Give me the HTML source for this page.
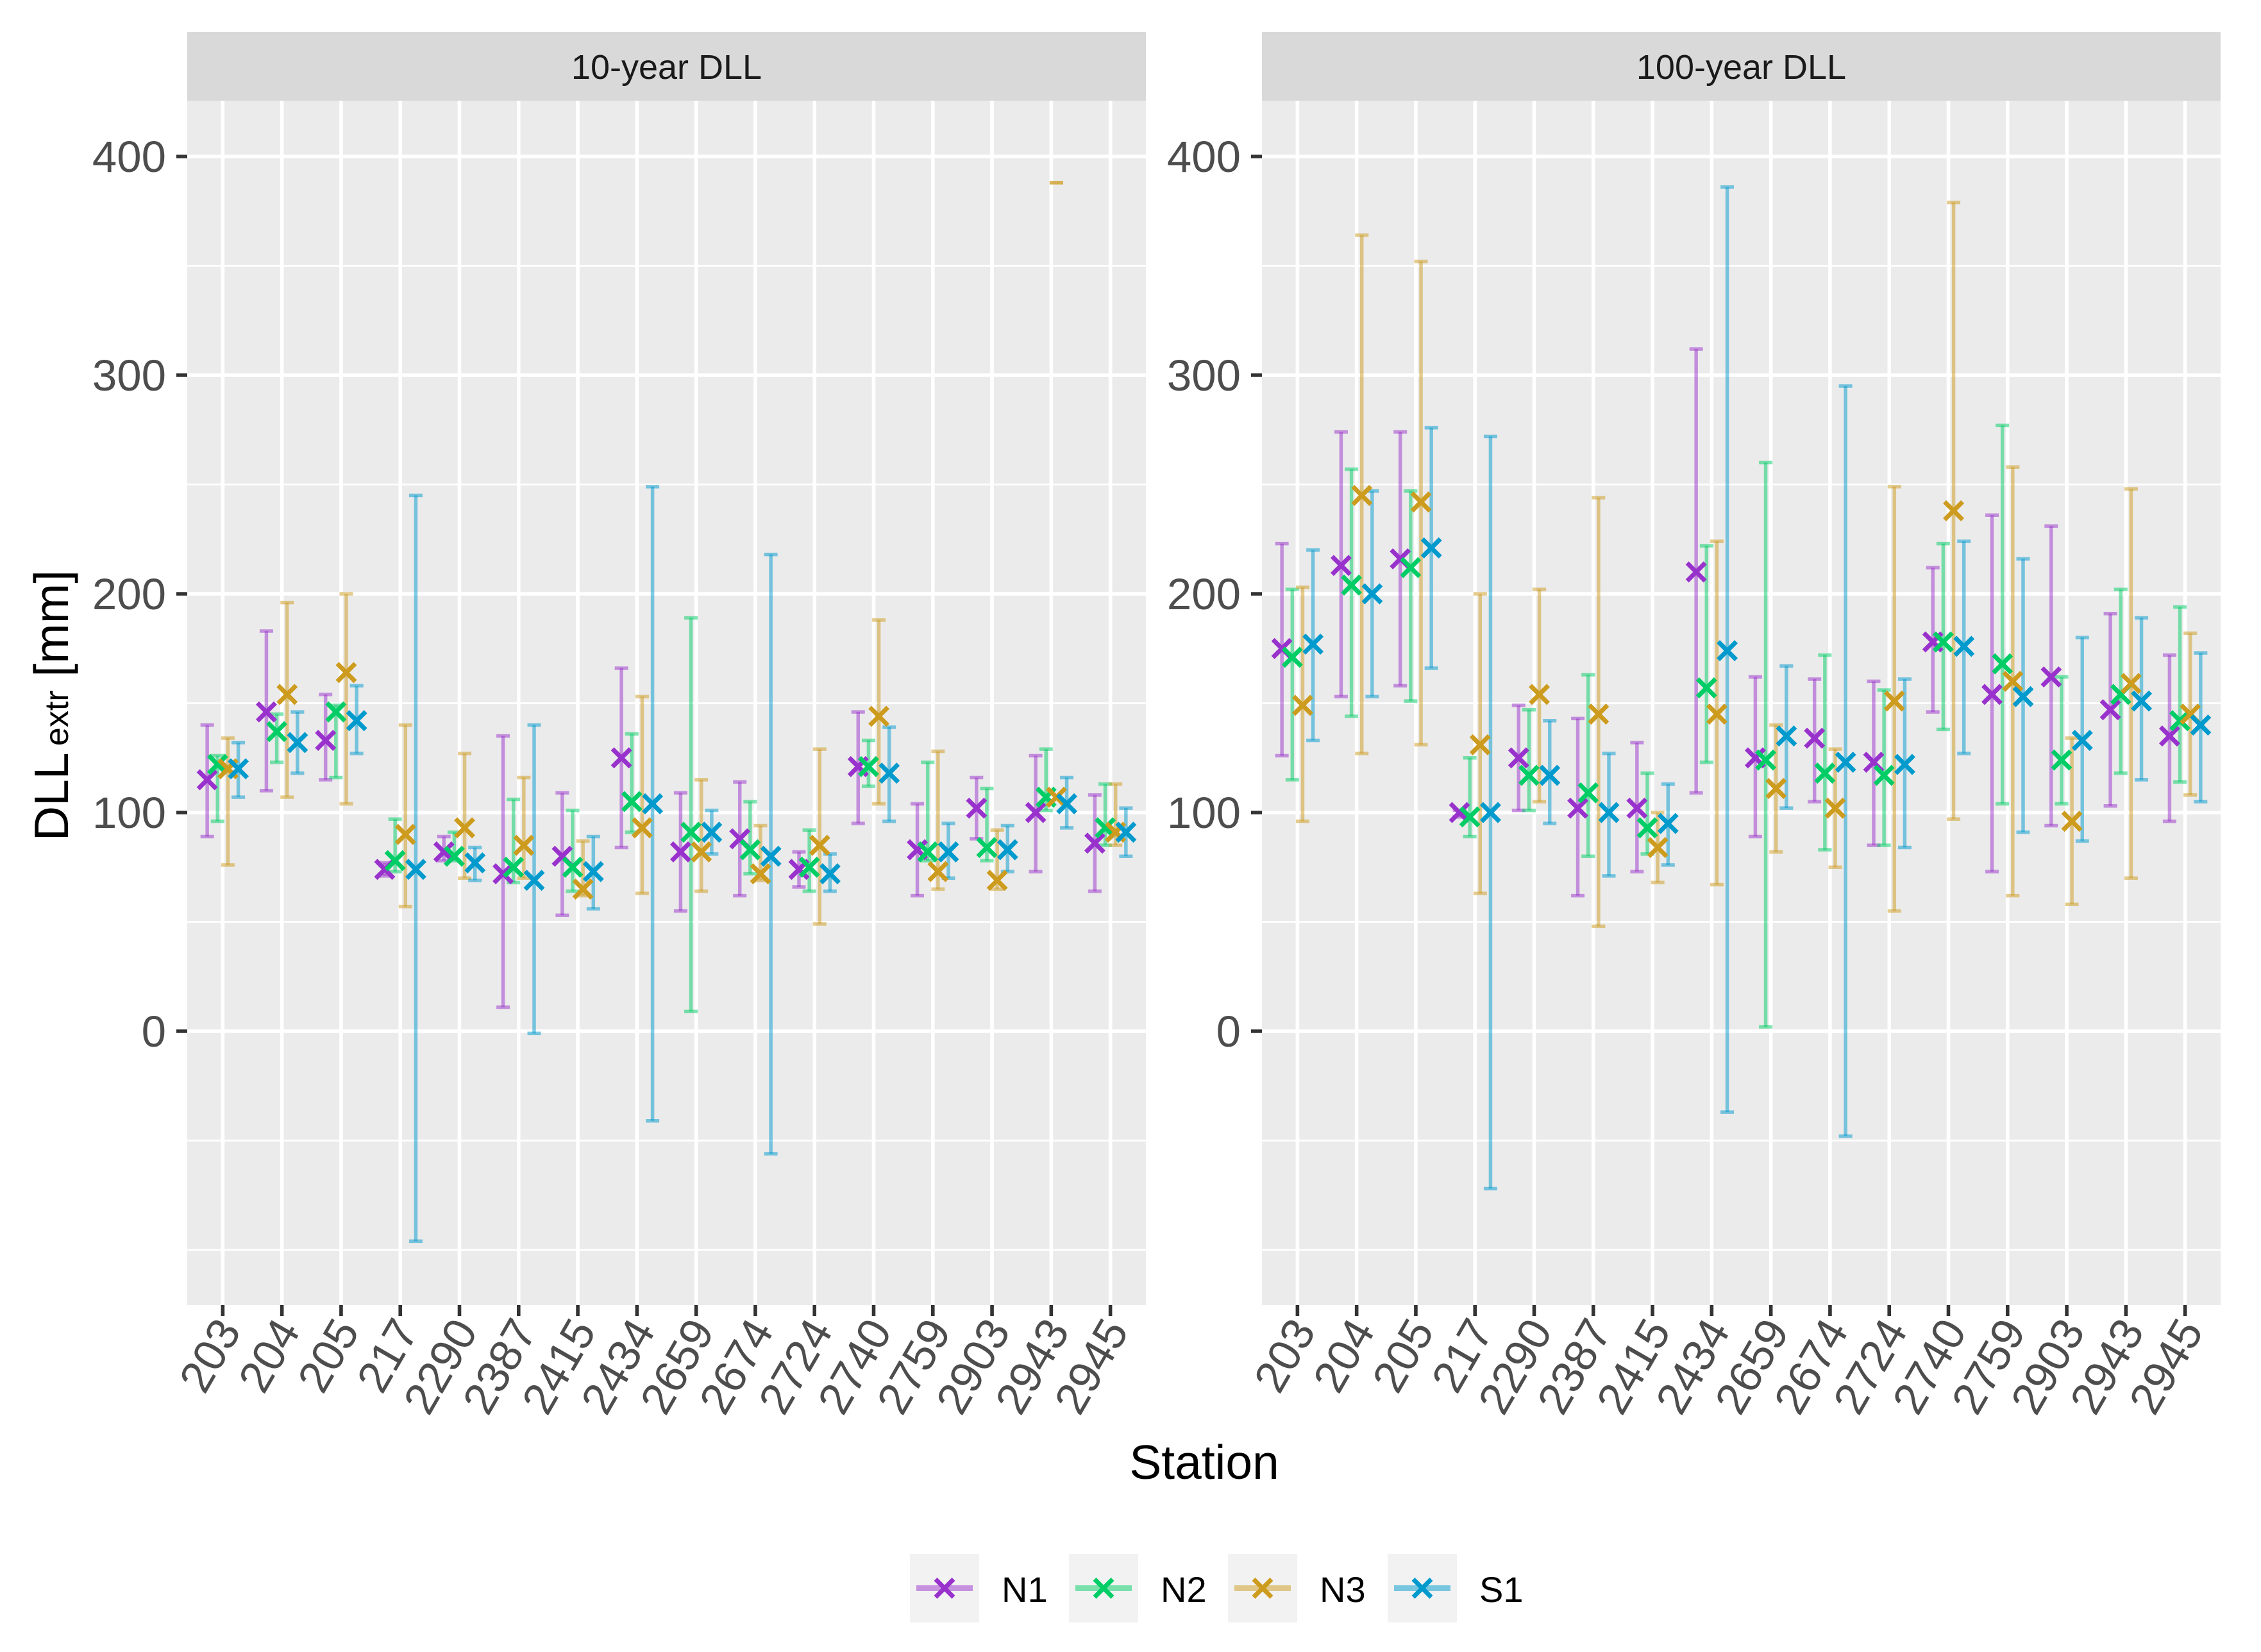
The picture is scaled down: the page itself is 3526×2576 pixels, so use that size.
<!DOCTYPE html>
<html><head><meta charset="utf-8"><style>
html,body{margin:0;padding:0;background:#fff;}
svg{display:block;font-family:"Liberation Sans",sans-serif;}
</style></head><body>
<svg id="chart" width="3526" height="2576" viewBox="0 0 3526 2576" xmlns="http://www.w3.org/2000/svg">
<rect x="0" y="0" width="3526" height="2576" fill="#fff"/>
</svg>
<script>
const stations = ["203","204","205","217","2290","2387","2415","2434","2659","2674","2724","2740","2759","2903","2943","2945"];
const seriesNames = ["N1","N2","N3","S1"];
const panelTitles = ["10-year DLL","100-year DLL"];
const yTicks = [0,100,200,300,400];
const yMinor = [-100,-50,50,150,250,350];
// 10-year: [center, low, high] per station for each series
const p10_N1 = [[115,89,140],[146,110,183],[133,115,154],[74,71,77],[82,78,89],[72,11,135],[80,53,109],[125,84,166],[82,55,109],[88,62,114],[74,66,82],[121,95,146],[83,62,104],[102,88,116],[100,73,126],[86,64,108]];
const p10_N2 = [[122,96,126],[137,123,145],[146,116,149],[78,73,97],[80,78,91],[75,68,106],[75,64,101],[105,91,136],[91,9,189],[83,72,105],[75,64,92],[121,112,133],[82,78,123],[84,78,111],[107,101,129],[93,85,113]];
const p10_N3 = [[120,76,134],[154,107,196],[164,104,200],[90,57,140],[93,70,127],[85,70,116],[65,62,87],[93,63,153],[82,64,115],[72,69,94],[85,49,129],[144,104,188],[73,65,128],[69,65,92],[107,388,388],[91,85,113]];
const p10_S1 = [[120,107,132],[132,118,146],[142,127,158],[74,-96,245],[77,69,84],[69,-1,140],[73,56,89],[104,-41,249],[91,81,101],[80,-56,218],[72,64,81],[118,96,139],[82,70,95],[83,73,94],[104,93,116],[91,80,102]];
// 100-year
const p100_N1 = [[175,126,223],[213,153,274],[216,158,274],[100,98,101],[125,101,149],[102,62,143],[102,73,132],[210,109,312],[125,89,162],[134,105,161],[123,85,160],[178,146,212],[154,73,236],[162,94,231],[147,103,191],[135,96,172]];
const p100_N2 = [[171,115,202],[204,144,257],[212,151,247],[98,89,125],[117,101,147],[109,80,163],[93,81,118],[157,123,222],[124,2,260],[118,83,172],[117,85,156],[178,138,223],[168,104,277],[124,104,162],[154,118,202],[142,114,194]];
const p100_N3 = [[149,96,203],[245,127,364],[242,131,352],[131,63,200],[154,105,202],[145,48,244],[84,68,100],[145,67,224],[111,82,140],[102,75,129],[151,55,249],[238,97,379],[160,62,258],[96,58,134],[159,70,248],[145,108,182]];
const p100_S1 = [[177,133,220],[200,153,247],[221,166,276],[100,-72,272],[117,95,142],[100,71,127],[95,76,113],[174,-37,386],[135,102,167],[123,-48,295],[122,84,161],[176,127,224],[153,91,216],[133,87,180],[151,115,189],[140,105,173]];

const colors = ["#9932CC","#00CD66","#CD9B1D","#009ACD"];
const NS = "http://www.w3.org/2000/svg";
const svg = document.getElementById("chart");
function mk(tag, attrs, parent){
  const e = document.createElementNS(NS, tag);
  for (const k in attrs) e.setAttribute(k, attrs[k]);
  (parent||svg).appendChild(e);
  return e;
}
const panels = [{x0:292, data:[p10_N1,p10_N2,p10_N3,p10_S1]},{x0:1968, data:[p100_N1,p100_N2,p100_N3,p100_S1]}];
const PW = 1495, PT = 157, PB = 2035, STRIPT = 50;
const step = PW/16.2;
function yS(v){ return 1608 - v*3.41; }
const dodge = [-0.2625,-0.0875,0.0875,0.2625];

panels.forEach((p, pi) => {
  const xS = i => p.x0 + (0.6 + i)*step;
  const g = mk("g", {});
  
  
  mk("rect", {x:p.x0, y:PT, width:PW, height:PB-PT, fill:"#EBEBEB"}, g);
  const strip = mk("rect", {x:p.x0, y:STRIPT, width:PW, height:PT-STRIPT, fill:"#D9D9D9"}, g);
  
  
  const st = mk("text", {x:p.x0+PW/2, y:123, "font-size":54, fill:"#1A1A1A", "text-anchor":"middle"}, g);
  st.textContent = panelTitles[pi];
  
  
  yMinor.forEach(v => mk("line", {x1:p.x0, x2:p.x0+PW, y1:yS(v), y2:yS(v), stroke:"#fff", "stroke-width":2.8}, g));
  yTicks.forEach(v => {
    const gl = mk("line", {x1:p.x0, x2:p.x0+PW, y1:yS(v), y2:yS(v), stroke:"#fff", "stroke-width":5.6}, g);
    
    
    mk("line", {x1:p.x0-17, x2:p.x0, y1:yS(v), y2:yS(v), stroke:"#333", "stroke-width":5.6}, g);
    const t = mk("text", {x:p.x0-33, y:yS(v)+24, "font-size":69, fill:"#4D4D4D", "text-anchor":"end"}, g);
    t.textContent = v;
    
    
  });
  stations.forEach((s, i) => {
    const x = xS(i);
    mk("line", {x1:x, x2:x, y1:PT, y2:PB, stroke:"#fff", "stroke-width":5.6}, g);
    mk("line", {x1:x, x2:x, y1:PB, y2:PB+17, stroke:"#333", "stroke-width":5.6}, g);
    const t = mk("text", {x:0, y:0, "font-size":70, fill:"#4D4D4D", "text-anchor":"end", transform:`translate(${x+30},${PB+40}) rotate(-60)`}, g);
    t.textContent = s;
    
    
  });
  p.data.forEach((ser, si) => {
    ser.forEach((d, i) => {
      const x = xS(i) + dodge[si]*step;
      const eb = mk("g", {stroke:colors[si], "stroke-opacity":0.5, "stroke-width":5.5, fill:"none"}, g);
      
      
      mk("line", {x1:x, x2:x, y1:yS(d[1]), y2:yS(d[2])}, eb);
      mk("line", {x1:x-10.5, x2:x+10.5, y1:yS(d[1]), y2:yS(d[1])}, eb);
      mk("line", {x1:x-10.5, x2:x+10.5, y1:yS(d[2]), y2:yS(d[2])}, eb);
    });
  });
  p.data.forEach((ser, si) => {
    ser.forEach((d, i) => {
      const x = xS(i) + dodge[si]*step, y = yS(d[0]), r = 14;
      const m = mk("path", {d:`M${x-r},${y-r}L${x+r},${y+r}M${x-r},${y+r}L${x+r},${y-r}`, stroke:colors[si], "stroke-width":7, fill:"none"}, g);
      
      
    });
  });
});

const xt = mk("text", {x:1878, y:2306, "font-size":75, fill:"#000", "text-anchor":"middle"});
xt.textContent = "Station";


const yt = mk("text", {x:0, y:0, "font-size":75, fill:"#000", "text-anchor":"middle", transform:"translate(106,1100) rotate(-90)"});
yt.innerHTML = 'DLL<tspan font-size="52" dy="0">&#8201;extr</tspan><tspan dy="0"> [mm]</tspan>';



const legendX = [1419, 1667, 1915, 2164];
seriesNames.forEach((n, si) => {
  const lg = mk("g", {});
  
  
  const kx = legendX[si], ky = 2423;
  mk("rect", {x:kx, y:ky, width:108, height:107, fill:"#F2F2F2"}, lg);
  mk("line", {x1:kx+10, x2:kx+98, y1:ky+53.5, y2:ky+53.5, stroke:colors[si], "stroke-opacity":0.5, "stroke-width":9}, lg);
  const cx = kx+54, cy = ky+53.5, r = 14;
  mk("path", {d:`M${cx-r},${cy-r}L${cx+r},${cy+r}M${cx-r},${cy+r}L${cx+r},${cy-r}`, stroke:colors[si], "stroke-width":7, fill:"none"}, lg);
  const t = mk("text", {x:kx+143, y:ky+75, "font-size":56, fill:"#000"}, lg);
  t.textContent = n;
});
</script>
</body></html>
